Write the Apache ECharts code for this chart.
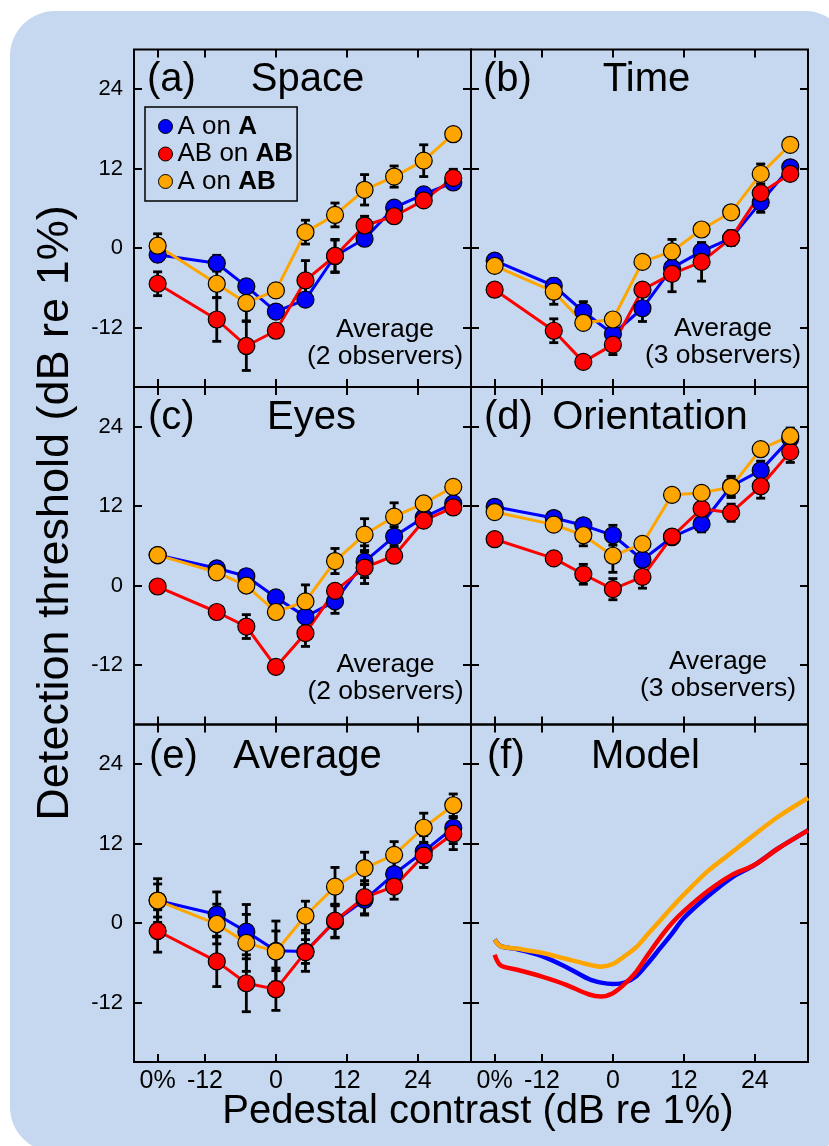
<!DOCTYPE html>
<html>
<head>
<meta charset="utf-8">
<script src="https://cdn.jsdelivr.net/npm/echarts@6/dist/echarts.min.js"></script>
<style>html,body{margin:0;padding:0;background:#fff;}#c{width:829px;height:1146px;}</style>
</head>
<body>
<div id="c"></div>
<script>
// ---------- data ----------
const legendNames = ['A on A', 'AB on AB', 'A on AB'];
const xs = [-20, -10, -5, 0, 5, 10, 15, 20, 25, 30];   // -20 plotted as "0%"
const xTicks = [-20, -12, 0, 12, 24];
const xTickLabels = ['0%', '-12', '0', '12', '24'];
const yTicks = [-12, 0, 12, 24];
const yTickLabels = ['-12', '0', '12', '24'];
const panelLetters = ['(a)', '(b)', '(c)', '(d)', '(e)', '(f)'];
const panelNames = ['Space', 'Time', 'Eyes', 'Orientation', 'Average', 'Model'];
const noteLine1 = ['Average', 'Average', 'Average', 'Average'];
const noteLine2 = ['(2 observers)', '(3 observers)', '(2 observers)', '(3 observers)'];

// (a) Space
const aA     = [-1.0, -2.3, -5.8, -9.6, -7.8, -1.2, 1.4, 6.1, 8.1, 9.9];
const aAB    = [-5.4, -10.8, -14.8, -12.5, -4.9, -1.2, 3.4, 4.8, 7.2, 10.6];
const aAoAB  = [0.35, -5.4, -8.3, -6.4, 2.4, 5.0, 8.8, 10.8, 13.2, 17.2];
const aA_e   = [1.0, 1.2, 0.8, 0.3, 0.6, 2.4, 0.5, 0.4, 0.4, 0.7];
const aAB_e  = [1.8, 3.3, 3.7, 0.3, 3.0, 2.5, 1.4, 0.3, 0.3, 1.3];
const aAoAB_e= [1.8, 2.1, 2.7, 0.5, 1.8, 1.8, 2.3, 1.6, 2.4, 0.9];
// (b) Time
const bA     = [-1.9, -5.7, -9.6, -13.0, -9.1, -3.0, -0.5, 1.5, 6.9, 12.2];
const bAB    = [-6.3, -12.5, -17.2, -14.6, -6.3, -3.9, -2.1, 1.5, 8.3, 11.2];
const bAoAB  = [-2.7, -6.6, -11.3, -10.8, -2.1, -0.5, 2.8, 5.4, 11.2, 15.6];
const bA_e   = [0.3, 1.0, 1.5, 1.3, 2.0, 1.2, 1.3, 1.1, 1.5, 0.4];
const bAB_e  = [0.3, 1.8, 0.3, 1.5, 0.8, 2.7, 2.9, 0.3, 1.0, 0.3];
const bAoAB_e= [0.3, 1.9, 0.3, 0.3, 0.3, 1.8, 0.3, 0.3, 1.5, 0.3];
// (c) Eyes
const cA     = [4.6, 2.6, 1.4, -1.8, -4.7, -2.4, 3.6, 7.4, 10.3, 12.4];
const cAB    = [-0.15, -4.0, -6.2, -12.3, -7.2, -0.8, 2.7, 4.5, 9.8, 11.8];
const cAoAB  = [4.6, 2.0, 0.0, -4.0, -2.4, 3.7, 7.7, 10.4, 12.4, 14.9];
const cA_e   = [0.3, 0.3, 0.5, 0.3, 0.8, 1.8, 2.4, 1.5, 0.3, 0.3];
const cAB_e  = [0.3, 0.3, 1.8, 0.3, 2.0, 0.5, 2.4, 1.0, 0.3, 0.3];
const cAoAB_e= [0.3, 0.3, 0.3, 0.3, 2.5, 1.9, 2.4, 2.1, 0.3, 0.3];
// (d) Orientation
const dA     = [11.9, 10.2, 9.1, 7.6, 3.9, 7.3, 9.3, 15.0, 17.4, 22.2];
const dAB    = [7.0, 4.1, 1.7, -0.55, 1.3, 7.4, 11.6, 11.0, 15.0, 20.2];
const dAoAB  = [11.1, 9.2, 7.6, 4.5, 6.3, 13.7, 14.0, 14.9, 20.6, 22.6];
const dA_e   = [0.3, 0.3, 0.5, 1.5, 1.0, 0.6, 1.2, 1.5, 1.4, 0.5];
const dAB_e  = [0.3, 0.3, 1.5, 1.6, 1.7, 0.6, 0.8, 1.3, 1.8, 1.6];
const dAoAB_e= [0.3, 0.3, 1.6, 2.5, 0.3, 0.3, 0.3, 1.6, 0.3, 1.2];
// (e) Average
const eA     = [3.4, 1.3, -1.3, -4.2, -4.3, 0.25, 3.5, 7.4, 10.8, 14.4];
const eAB    = [-1.2, -5.8, -9.1, -10.0, -4.4, 0.35, 3.9, 5.5, 10.2, 13.5];
const eAoAB  = [3.4, -0.15, -3.0, -4.3, 1.1, 5.5, 8.3, 10.3, 14.4, 17.8];
const eA_e   = [2.5, 3.4, 4.1, 3.0, 1.8, 2.5, 2.3, 2.0, 2.4, 2.4];
const eAB_e  = [3.2, 3.8, 4.3, 3.2, 2.9, 2.5, 2.5, 1.9, 1.8, 2.4];
const eAoAB_e= [3.3, 3.0, 4.3, 4.6, 2.2, 2.9, 2.4, 2.0, 2.2, 1.7];
// (f) Model curves
const fx     = [-20, -19, -16, -12, -8, -4, -2, 0, 2, 4, 6, 8, 10, 12, 16, 20, 24, 28, 33];
const fA     = [-2.5, -3.5, -4.0, -5.0, -6.6, -8.5, -9.0, -9.2, -9.0, -8.0, -6.0, -3.8, -1.6, 0.75, 4.0, 6.8, 8.8, 11.3, 14.0];
const fAB    = [-4.8, -6.4, -7.1, -8.1, -9.3, -10.8, -11.1, -10.6, -9.2, -7.3, -4.7, -2.2, 0.0, 1.8, 4.8, 7.2, 8.8, 11.3, 14.0];
const fAoAB  = [-2.5, -3.5, -3.9, -4.5, -5.4, -6.3, -6.6, -6.2, -5.0, -3.6, -1.6, 0.4, 2.4, 4.3, 7.8, 10.6, 13.4, 16.1, 18.9];

// ---------- layout / style ----------
const FONT = "'Liberation Sans', Arial, Helvetica, sans-serif";
const BG = '#c6d8ef';
const colors = ['#0000ff', '#ff0000', '#ffa500'];
const gridPos = [[134, 49.5], [471, 49.5], [134, 387], [471, 387], [134, 724.5], [471, 724.5]];
const GW = 337, GH = 337.5;

const panelData = [
  {v: [aA, aAB, aAoAB], e: [aA_e, aAB_e, aAoAB_e]},
  {v: [bA, bAB, bAoAB], e: [bA_e, bAB_e, bAoAB_e]},
  {v: [cA, cAB, cAoAB], e: [cA_e, cAB_e, cAoAB_e]},
  {v: [dA, dAB, dAoAB], e: [dA_e, dAB_e, dAoAB_e]},
  {v: [eA, eAB, eAoAB], e: [eA_e, eAB_e, eAoAB_e]}
];
const modelData = [fA, fAB, fAoAB];

const grids = [], xAxes = [], yAxes = [], series = [];
const tickStyle = {inside: true, length: 8, lineStyle: {color: '#000', width: 2}};
const noLine = {show: false, onZero: false};

gridPos.forEach((p, i) => {
  grids.push({left: p[0], top: p[1], width: GW, height: GH, show: true,
    borderColor: '#000', borderWidth: 2, backgroundColor: 'transparent'});
  const bottomRow = i >= 4, leftCol = i % 2 === 0;
  xAxes.push({gridIndex: i, type: 'value', min: -24, max: 33, position: 'bottom',
    axisLine: noLine, splitLine: {show: false},
    axisTick: Object.assign({customValues: xTicks}, tickStyle),
    axisLabel: {show: bottomRow, customValues: xTicks, margin: 7, color: '#000',
      fontSize: 25, fontFamily: FONT,
      formatter: v => xTickLabels[xTicks.indexOf(v)]}});
  xAxes.push({gridIndex: i, type: 'value', min: -24, max: 33, position: 'top',
    axisLine: noLine, splitLine: {show: false},
    axisTick: Object.assign({customValues: xTicks}, tickStyle),
    axisLabel: {show: false}});
  yAxes.push({gridIndex: i, type: 'value', min: -21, max: 30, position: 'left',
    axisLine: noLine, splitLine: {show: false},
    axisTick: Object.assign({customValues: yTicks}, tickStyle),
    axisLabel: {show: leftCol, customValues: yTicks, margin: 11, color: '#000',
      fontSize: 22, fontFamily: FONT,
      formatter: v => yTickLabels[yTicks.indexOf(v)]}});
  yAxes.push({gridIndex: i, type: 'value', min: -21, max: 30, position: 'right',
    axisLine: noLine, splitLine: {show: false},
    axisTick: Object.assign({customValues: yTicks}, tickStyle),
    axisLabel: {show: false}});
});

function errRender(params, api) {
  const x = api.value(0), y = api.value(1), e = api.value(2);
  const t = api.coord([x, y + e]), b = api.coord([x, y - e]);
  const w = 4.5, st = {stroke: '#000', lineWidth: 2.8};
  return {type: 'group', children: [
    {type: 'line', shape: {x1: t[0], y1: t[1], x2: b[0], y2: b[1]}, style: st},
    {type: 'line', shape: {x1: t[0] - w, y1: t[1], x2: t[0] + w, y2: t[1]}, style: st},
    {type: 'line', shape: {x1: b[0] - w, y1: b[1], x2: b[0] + w, y2: b[1]}, style: st}
  ]};
}

panelData.forEach((pd, p) => {
  for (let c = 0; c < 3; c++) {
    const pts = xs.map((x, k) => [x, pd.v[c][k]]);
    series.push({type: 'line', xAxisIndex: 2 * p, yAxisIndex: 2 * p, data: pts,
      symbol: 'none', lineStyle: {color: colors[c], width: 3}, z: 2, silent: true, animation: false});
    series.push({type: 'custom', xAxisIndex: 2 * p, yAxisIndex: 2 * p,
      data: xs.map((x, k) => [x, pd.v[c][k], pd.e[c][k]]),
      encode: {x: 0, y: 1}, renderItem: errRender, z: 3, silent: true, animation: false});
  }
  for (let c = 0; c < 3; c++) {
    const pts = xs.map((x, k) => [x, pd.v[c][k]]);
    series.push({type: 'scatter', name: legendNames[c], xAxisIndex: 2 * p, yAxisIndex: 2 * p,
      data: pts, symbol: 'circle', symbolSize: 17,
      itemStyle: {color: colors[c], borderColor: '#000', borderWidth: 1.2, opacity: 1},
      z: 4, silent: true, animation: false});
  }
});
modelData.forEach((m, c) => {
  series.push({type: 'line', xAxisIndex: 10, yAxisIndex: 10,
    data: fx.map((x, k) => [x, m[k]]), symbol: 'none', smooth: 0.3,
    lineStyle: {color: colors[c], width: 4.5}, z: 2 + c * 0.1, silent: true, animation: false});
});

// ---------- texts ----------
const graphics = [
  {type: 'rect', z: -100, silent: true, shape: {x: 10, y: 11, width: 840, height: 1141, r: 45}, style: {fill: BG}}
];
function txt(s, x, y, size, align, rot) {
  return {type: 'text', x: x, y: y, rotation: rot || 0, z: 100, silent: true,
    style: {text: s, fontSize: size, fontFamily: FONT, fill: '#000',
      align: align, verticalAlign: 'middle', textAlign: align, textVerticalAlign: 'middle'}};
}
const letterX = [147, 483, 148, 484, 149, 487];
const nameX = [307.5, 646.5, 311.5, 650, 307.5, 645.5];
const titleY = [80, 80, 417.5, 417.5, 757, 757];
for (let i = 0; i < 6; i++) {
  graphics.push(txt(panelLetters[i], letterX[i], titleY[i], 40, 'left'));
  graphics.push(txt(panelNames[i], nameX[i], titleY[i], 40, 'center'));
}
const noteX = [385, 723, 385.5, 718];
const noteY = [330, 329, 665, 662];
for (let i = 0; i < 4; i++) {
  graphics.push(txt(noteLine1[i], noteX[i], noteY[i], 26.5, 'center'));
  graphics.push(txt(noteLine2[i], noteX[i], noteY[i] + 27, 26.5, 'center'));
}
graphics.push(txt('Detection threshold (dB re 1%)', 56, 513, 45, 'center', Math.PI / 2));
graphics.push(txt('Pedestal contrast (dB re 1%)', 478, 1112, 40, 'center'));

const legendFmt = {
  'A on A': '{n|A on }{b|A}',
  'AB on AB': '{n|AB on }{b|AB}',
  'A on AB': '{n|A on }{b|AB}'
};

const chart = echarts.init(document.getElementById('c'), null, {renderer: 'canvas'});
chart.setOption({
  backgroundColor: '#ffffff',
  animation: false,
  grid: grids, xAxis: xAxes, yAxis: yAxes, series: series,
  graphic: graphics,
  legend: {
    data: legendNames, orient: 'vertical', left: 145, top: 107,
    padding: [6, 4, 6, 13], itemGap: 0.5, itemWidth: 14, itemHeight: 14, itemTextGap: 12,
    icon: 'circle', borderColor: '#000', borderWidth: 1.5, selectedMode: false,
    itemStyle: {borderColor: '#000', borderWidth: 1},
    formatter: n => legendFmt[n],
    textStyle: {fontFamily: FONT, fontSize: 26, color: '#000', lineHeight: 27,
      rich: {
        n: {fontFamily: FONT, fontSize: 26, color: '#000', lineHeight: 27},
        b: {fontFamily: FONT, fontSize: 26, color: '#000', lineHeight: 27, fontWeight: 'bold'}
      }}
  }
});
</script>
</body>
</html>
